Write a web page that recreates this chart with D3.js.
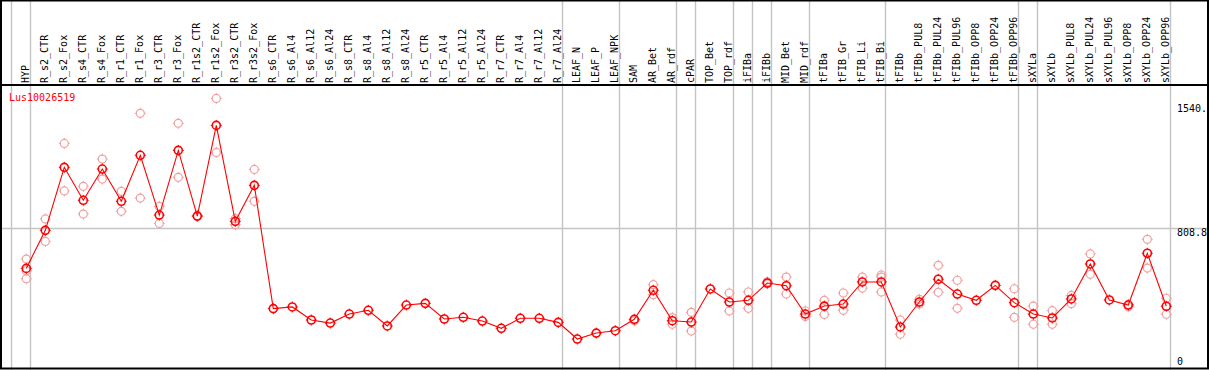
<!DOCTYPE html>
<html>
<head>
<meta charset="utf-8">
<script src="https://cdn.jsdelivr.net/npm/d3@7"></script>
<style>
  html, body { margin: 0; padding: 0; background: #fff; }
  svg { display: block; }
  text { font-family: "DejaVu Sans Mono", "Liberation Mono", monospace; }
</style>
</head>
<body>
<div id="chart"></div>
<script>
// sample names (one column each)
const samples = [
  "HYP", "R_s2_CTR", "R_s2_Fox", "R_s4_CTR", "R_s4_Fox", "R_r1_CTR", "R_r1_Fox",
  "R_r3_CTR", "R_r3_Fox", "R_r1s2_CTR", "R_r1s2_Fox", "R_r3s2_CTR", "R_r3s2_Fox",
  "R_s6_CTR", "R_s6_Al4", "R_s6_Al12", "R_s6_Al24", "R_s8_CTR", "R_s8_Al4", "R_s8_Al12",
  "R_s8_Al24", "R_r5_CTR", "R_r5_Al4", "R_r5_Al12", "R_r5_Al24", "R_r7_CTR", "R_r7_Al4",
  "R_r7_Al12", "R_r7_Al24", "LEAF_N", "LEAF_P", "LEAF_NPK", "SAM", "AR_Bet", "AR_rdf",
  "cPAR", "TOP_Bet", "TOP_rdf", "iFIBa", "iFIBb", "MID_Bet", "MID_rdf", "tFIBa",
  "tFIB_Gr", "tFIB_Li", "tFIB_Bi", "tFIBb", "tFIBb_PUL8", "tFIBb_PUL24", "tFIBb_PUL96",
  "tFIBb_OPP8", "tFIBb_OPP24", "tFIBb_OPP96", "sXYLa", "sXYLb", "sXYLb_PUL8",
  "sXYLb_PUL24", "sXYLb_PUL96", "sXYLb_OPP8", "sXYLb_OPP24", "sXYLb_OPP96"
];

// mean expression (dark red line)
const meanValues = [
  569, 793, 1164, 970, 1154, 964, 1235, 883, 1264, 877, 1411, 846, 1058,
  332, 342, 265, 247, 300, 322, 230, 353, 363, 271, 281, 259, 216, 275, 275, 251,
  153, 188, 202, 269, 440, 261, 253, 448, 371, 381, 483, 467, 300, 347, 359, 489, 489,
  224, 371, 505, 418, 381, 469, 367, 300, 277, 389, 595, 383, 353, 658, 346
];

// replicates (pale circles), null = hidden behind the mean
const rep1 = [
  624, 860, 1305, 1052, 1213, 1023, 1482, 934, 1423, 880, 1570, 862, 1152,
  null, null, null, null, null, null, null, null, null, null, null, null, null, null, null, null,
  null, null, null, 265, 473, 279, 310, null, 424, 430, 490, 518, 318, 381, 424, 518, 530,
  265, 387, 587, 499, null, null, 449, 347, 320, 410, 654, null, 343, 740, 393
];
const rep2 = [
  508, 728, 1025, 889, 1095, 905, 983, 834, 1105, 875, 1252, 826, 964,
  null, null, null, null, null, null, null, null, null, null, null, null, null, null, null, null,
  null, null, null, 260, 414, 240, 200, null, 318, 334, 478, 418, 285, 298, 322, 453, 430,
  181, 359, 428, 334, null, null, 281, 240, 240, 361, 534, null, 357, 571, 299
];
const rep3 = [
  555, null, null, null, null, null, null, null, null, null, null, null, null,
  null, null, null, null, null, null, null, null, null, null, null, null, null, null, null, null,
  null, null, null, null, null, null, null, null, null, null, null, null, null, null, null, null, 518,
  null, null, null, null, null, null, null, null, null, null, null, null, null, null, null
];

// gray separators drawn right after these columns (-1 = before the first)
const separatorsAfter = [-1, 0, 28, 31, 34, 35, 37, 38, 39, 41, 45, 52, 53, 60];

const axisValues = [1540, 808.8, 0];
const axisLabels = ["1540.", "808.8", "0"];
const geneName = "Lus10026519";

const W = 1209, H = 370;
const headerBottom = 85;

const svg = d3.select("#chart").append("svg").attr("width", W).attr("height", H);

const x = d3.scalePoint().domain(samples).range([26.3, 1166.3]);
const step = x.step();
const y = d3.scaleLinear().domain([0, 1540]).range([365, 103.5]);

// separators
svg.selectAll(".sep").data(separatorsAfter).enter().append("line")
  .attr("x1", d => (d < 0 ? x(samples[0]) - step : x(samples[d])) + 4.2)
  .attr("x2", d => (d < 0 ? x(samples[0]) - step : x(samples[d])) + 4.2)
  .attr("y1", 0).attr("y2", H)
  .attr("stroke", "#c4c4c4").attr("stroke-width", 1.4);

// middle grid line
svg.append("line")
  .attr("x1", 0).attr("x2", W)
  .attr("y1", Math.round(y(808.8)) + 0.5).attr("y2", Math.round(y(808.8)) + 0.5)
  .attr("stroke", "#c4c4c4").attr("stroke-width", 1.4);

// frame
svg.append("rect").attr("x", 1).attr("y", 0.5).attr("width", W - 2).attr("height", H - 2)
  .attr("fill", "none").attr("stroke", "#000").attr("stroke-width", 2);
svg.append("line").attr("x1", 0).attr("x2", W).attr("y1", headerBottom).attr("y2", headerBottom)
  .attr("stroke", "#000").attr("stroke-width", 2);

// column labels
svg.selectAll(".lab").data(samples).enter().append("text")
  .attr("transform", d => `translate(${x(d) + 2.6},${headerBottom - 2}) rotate(-90)`)
  .attr("font-size", 10)
  .attr("fill", "#000")
  .text(d => d);

// right axis labels
svg.selectAll(".ax").data(axisValues).enter().append("text")
  .attr("x", 1177)
  .attr("y", (d, i) => i === 2 ? y(d) : y(d) + 8)
  .attr("font-size", 10)
  .attr("fill", "#000")
  .text((d, i) => axisLabels[i]);

// gene name
svg.append("text").attr("x", 9).attr("y", 101)
  .attr("font-size", 10).attr("fill", "#ff0000").text(geneName);

function marker(g, cx, cy, color, sw) {
  g.append("circle").attr("cx", cx).attr("cy", cy).attr("r", 4)
    .attr("fill", "none").attr("stroke", color).attr("stroke-width", sw);
  [[0, -1], [0, 1], [-1, 0], [1, 0]].forEach(([dx, dy]) => {
    g.append("line")
      .attr("x1", cx + dx * 4).attr("y1", cy + dy * 4)
      .attr("x2", cx + dx * 5.5).attr("y2", cy + dy * 5.5)
      .attr("stroke", color).attr("stroke-width", 1);
  });
}

// replicates
const pale = svg.append("g");
[rep1, rep2, rep3].forEach(rep => {
  rep.forEach((v, i) => {
    if (v == null) return;
    marker(pale, x(samples[i]), y(v), "#f0a0a0", 1.2);
  });
});

// mean line
svg.append("path")
  .datum(meanValues)
  .attr("fill", "none").attr("stroke", "#ff0000").attr("stroke-width", 1.1)
  .attr("d", d3.line().x((d, i) => x(samples[i])).y(d => y(d)));

const main = svg.append("g");
meanValues.forEach((v, i) => marker(main, x(samples[i]), y(v), "#ff0000", 1.6));
</script>
</body>
</html>
